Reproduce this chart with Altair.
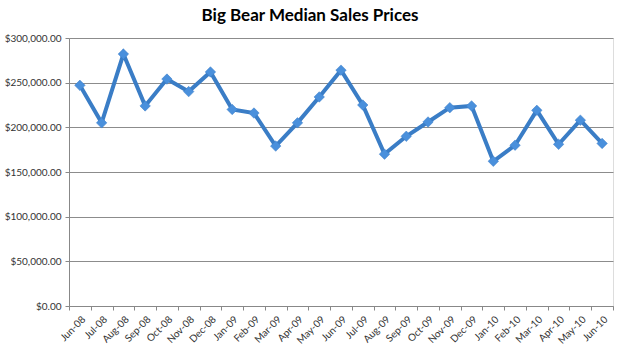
import altair as alt
import pandas as pd

months = ["Jun-08", "Jul-08", "Aug-08", "Sep-08", "Oct-08", "Nov-08", "Dec-08",
          "Jan-09", "Feb-09", "Mar-09", "Apr-09", "May-09", "Jun-09", "Jul-09",
          "Aug-09", "Sep-09", "Oct-09", "Nov-09", "Dec-09", "Jan-10", "Feb-10",
          "Mar-10", "Apr-10", "May-10", "Jun-10"]
prices = [247000, 205000, 282000, 224000, 254000, 240000, 262000,
          220000, 216000, 179000, 205000, 234000, 264000, 225000,
          170000, 190000, 206000, 222000, 224000, 162000, 180000,
          219000, 181000, 208000, 182000]

df = pd.DataFrame({"Month": months, "Price": prices})

font = "Lato"
x = alt.X("Month:N", sort=months, title=None, bandPosition=0.5,
          scale=alt.Scale(type="band", paddingInner=0, paddingOuter=0),
          axis=alt.Axis(labelAngle=-45, labelFontSize=10, labelFont=font,
                        labelColor="#333333", domainColor="#888888",
                        tickColor="#888888", tickSize=4, grid=False,
                        tickBand="extent", labelPadding=4))
y = alt.Y("Price:Q", title=None,
          scale=alt.Scale(domain=[0, 300000], nice=False),
          axis=alt.Axis(format="$,.2f", values=[0, 50000, 100000, 150000, 200000, 250000, 300000],
                        labelFontSize=10, labelFont=font, labelColor="#333333",
                        domainColor="#888888", tickColor="#888888", tickSize=4,
                        gridColor="#8c8c8c", gridWidth=1, labelPadding=4))

line = alt.Chart(df).mark_line(color="#3a7dc6", strokeWidth=4).encode(x=x, y=y)
pts = alt.Chart(df).mark_point(shape="diamond", filled=True, size=110,
                               color="#4a90dc", opacity=1,
                               stroke="#3a7dc6", strokeWidth=0.5).encode(x=x, y=y)

chart = (line + pts).properties(
    width=544, height=268,
    title=alt.TitleParams("Big Bear Median Sales Prices", font=font, fontSize=17,
                          fontWeight="bold", color="#000000", anchor="middle",
                          dx=-31, offset=8),
    autosize=alt.AutoSizeParams(type="none"),
    padding={"left": 69, "top": 38, "right": 7, "bottom": 45},
).configure_view(stroke=None).configure(background="white")

chart.save("out.html", embed_options={"renderer": "svg", "actions": False})
